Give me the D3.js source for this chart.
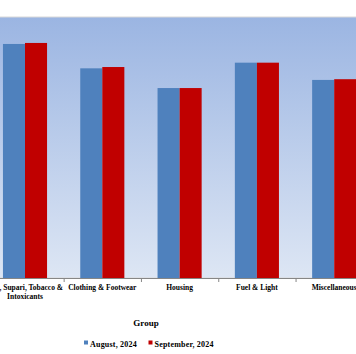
<html>
<head>
  <script src="https://d3js.org/d3.v7.min.js"></script>
  <style>
    body { margin: 0; background: #fff; }
    text { font-family: "Liberation Serif", "Times New Roman", serif; font-weight: bold; fill: #000; }
  </style>
</head>
<body>
  <svg id="chart" width="356" height="354"></svg>
  <script>
    const groups = ["Pan, Supari, Tobacco & Intoxicants", "Clothing & Footwear", "Housing", "Fuel & Light", "Miscellaneous"];
    const series = ["August, 2024", "September, 2024"];
    const august = [161.4, 144.6, 131.0, 148.5, 136.6];
    const september = [162.1, 145.5, 131.0, 148.5, 137.1];
    const colors = ["#4f81bd", "#c00000"];

    const plotTop = 17, plotBottom = 278;
    const svg = d3.select("svg#chart");

    const defs = svg.append("defs");
    const grad = defs.append("linearGradient").attr("id", "bg")
      .attr("x1", 0).attr("y1", 0).attr("x2", 0).attr("y2", 1);
    grad.append("stop").attr("offset", "0%").attr("stop-color", "#9bb5e2");
    grad.append("stop").attr("offset", "100%").attr("stop-color", "#dde6f4");

    svg.append("rect")
      .attr("x", -10).attr("y", plotTop)
      .attr("width", 380).attr("height", plotBottom - plotTop)
      .attr("fill", "url(#bg)")
      .attr("stroke", "#d9d9d9").attr("stroke-width", 1);

    const x0 = d3.scaleBand().domain(groups).range([-13.65, 372.85]).padding(0);
    const x1 = d3.scaleBand().domain(series).range([16.6, 60.7]).padding(0);
    const y = d3.scaleLinear().domain([0, 180]).range([plotBottom, plotTop]);

    const rows = groups.map((g, i) => ({ group: g, values: [august[i], september[i]] }));

    svg.append("g").selectAll("g").data(rows).join("g")
      .attr("transform", d => `translate(${x0(d.group)},0)`)
      .selectAll("rect").data(d => d.values.map((v, j) => ({ key: series[j], value: v, j: j })))
      .join("rect")
      .attr("x", d => x1(d.key))
      .attr("y", d => y(d.value))
      .attr("width", x1.bandwidth())
      .attr("height", d => y(0) - y(d.value))
      .attr("fill", d => colors[d.j]);

    // axis line and ticks between groups
    const axis = svg.append("g").attr("transform", `translate(0,${plotBottom})`);
    axis.append("line").attr("x1", -10).attr("x2", 366).attr("y1", 0.5).attr("y2", 0.5)
      .attr("stroke", "#868686");
    axis.selectAll("line.tick").data(groups.slice(1)).join("line")
      .attr("class", "tick")
      .attr("x1", d => x0(d) + 0.5).attr("x2", d => x0(d) + 0.5)
      .attr("y1", 0).attr("y2", 4)
      .attr("stroke", "#868686");

    // category labels, wrapped
    const wrapLines = { "Pan, Supari, Tobacco & Intoxicants": ["Pan, Supari, Tobacco &", "Intoxicants"] };
    svg.append("g").selectAll("text").data(groups).join("text")
      .attr("x", d => x0(d) + x0.bandwidth() / 2)
      .attr("y", 290)
      .attr("text-anchor", "middle")
      .style("font-size", "7.5px")
      .each(function (d) {
        const lines = wrapLines[d] || [d];
        d3.select(this).selectAll("tspan").data(lines).join("tspan")
          .attr("x", x0(d) + x0.bandwidth() / 2)
          .attr("dy", (l, i) => i === 0 ? 0 : 8.8)
          .text(l => l);
      });

    svg.append("text")
      .attr("x", 146).attr("y", 326)
      .attr("text-anchor", "middle")
      .style("font-size", "9px")
      .text("Group");

    // legend
    const legendX = [84, 148.5];
    const legend = svg.append("g").selectAll("g").data(series).join("g")
      .attr("transform", (d, i) => `translate(${legendX[i]},344)`);
    legend.append("rect").attr("x", 0).attr("y", -3.5).attr("width", 4).attr("height", 4)
      .attr("fill", (d, i) => colors[i]);
    legend.append("text").attr("x", 6).attr("y", 2.5)
      .style("font-size", "8px")
      .style("letter-spacing", "0.2px")
      .text(d => d);
  </script>
</body>
</html>
